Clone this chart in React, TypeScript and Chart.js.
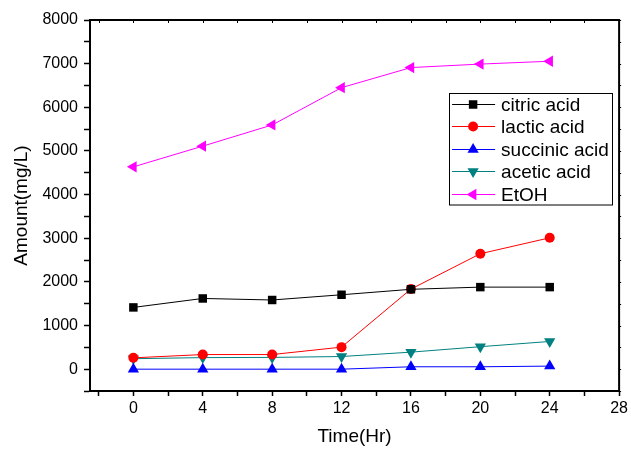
import React, { useEffect, useRef } from 'react';
import { Chart, registerables } from 'chart.js';
import { drawPoint } from 'chart.js/helpers';

Chart.register(...registerables);

const hours = [0, 4, 8, 12, 16, 20, 24];
const citricAcid = [1415, 1620, 1585, 1705, 1830, 1880, 1880];
const lacticAcid = [260, 335, 335, 505, 1835, 2645, 3010];
const succinicAcid = [0, 0, 0, 0, 55, 55, 70];
const aceticAcid = [240, 265, 270, 290, 390, 515, 635];
const etoh = [4635, 5110, 5595, 6450, 6910, 6990, 7055];

const seriesNames = ['citric acid', 'lactic acid', 'succinic acid', 'acetic acid', 'EtOH'];
const xTickValues = [-2, 0, 2, 4, 6, 8, 10, 12, 14, 16, 18, 20, 22, 24, 26, 28];
const xLabelValues = [0, 4, 8, 12, 16, 20, 24, 28];
const yTickValues = [-500, 0, 500, 1000, 1500, 2000, 2500, 3000, 3500, 4000, 4500, 5000, 5500, 6000, 6500, 7000, 7500, 8000];
const yLabelValues = [0, 1000, 2000, 3000, 4000, 5000, 6000, 7000, 8000];

const FONT = '"Liberation Sans", Arial, sans-serif';

const styles = [
  { color: '#000000', pointStyle: 'rect', radius: 6, rotation: 0 },
  { color: '#FF0000', pointStyle: 'circle', radius: 5, rotation: 0 },
  { color: '#0000FF', pointStyle: 'triangle', radius: 6.5, rotation: 0 },
  { color: '#008080', pointStyle: 'triangle', radius: 6.5, rotation: 180 },
  { color: '#FF00FF', pointStyle: 'triangle', radius: 6.5, rotation: -90 },
];

const seriesValues = [citricAcid, lacticAcid, succinicAcid, aceticAcid, etoh];

const framePlugin = {
  id: 'frame',
  afterDraw(chart: any) {
    const { ctx, chartArea: a, scales } = chart;
    ctx.save();
    ctx.strokeStyle = '#000';
    ctx.lineWidth = 2;
    ctx.beginPath();
    ctx.moveTo(a.left - 1, a.top);
    ctx.lineTo(a.right, a.top);
    ctx.lineTo(a.right, a.bottom + 1);
    ctx.stroke();
    ctx.lineWidth = 1;
    ctx.beginPath();
    for (const v of xTickValues) {
      const px = Math.round(scales.x.getPixelForValue(v)) + 0.5;
      ctx.moveTo(px, a.top);
      ctx.lineTo(px, a.top + 3);
    }
    for (const v of yTickValues) {
      const py = Math.round(scales.y.getPixelForValue(v)) + 0.5;
      ctx.moveTo(a.right, py);
      ctx.lineTo(a.right + 2, py);
    }
    ctx.stroke();
    ctx.restore();
  },
};

const legendPlugin = {
  id: 'boxLegend',
  afterDraw(chart: any) {
    const { ctx, chartArea: a } = chart;
    const left = a.right - 170;
    const top = a.top + 72.5;
    const width = 163;
    const height = 111.5;
    ctx.save();
    ctx.fillStyle = '#fff';
    ctx.fillRect(left, top, width, height);
    ctx.strokeStyle = '#000';
    ctx.lineWidth = 1;
    ctx.strokeRect(Math.round(left) + 0.5, Math.round(top) + 0.5, width, height);
    ctx.font = `19px ${FONT}`;
    ctx.textBaseline = 'middle';
    ctx.textAlign = 'left';
    seriesNames.forEach((name, i) => {
      const st = styles[i];
      const y = Math.round(top + 11.5 + i * 22.4) + 0.5;
      ctx.strokeStyle = st.color;
      ctx.lineWidth = 1;
      ctx.beginPath();
      ctx.moveTo(left + 3, y);
      ctx.lineTo(left + 46, y);
      ctx.stroke();
      ctx.fillStyle = st.color;
      drawPoint(ctx, { pointStyle: st.pointStyle as any, radius: st.radius, rotation: st.rotation, borderWidth: 0 } as any, left + 24, y);
      ctx.fillStyle = '#000';
      ctx.fillText(name, left + 52, y + 1);
    });
    ctx.restore();
  },
};

export default function App() {
  const ref = useRef<HTMLCanvasElement>(null);
  useEffect(() => {
    const canvas = ref.current!;
    const chart = new Chart(canvas, {
      type: 'line',
      data: {
        datasets: seriesNames.map((name, i) => ({
          label: name,
          data: hours.map((h, j) => ({ x: h, y: seriesValues[i][j] })),
          borderColor: styles[i].color,
          backgroundColor: styles[i].color,
          borderWidth: 1,
          pointStyle: styles[i].pointStyle as any,
          pointRadius: styles[i].radius,
          pointRotation: styles[i].rotation,
          pointBorderWidth: 0,
          tension: 0,
          fill: false,
        })),
      },
      options: {
        responsive: false,
        devicePixelRatio: 1,
        animation: false,
        layout: { padding: { left: 0, right: 9, top: 20, bottom: 0 } },
        plugins: { legend: { display: false }, tooltip: { enabled: false } },
        scales: {
          x: {
            type: 'linear',
            min: -2.5,
            max: 28,
            afterBuildTicks: (s: any) => {
              s.ticks = xTickValues.map((v) => ({ value: v }));
            },
            afterFit: (s: any) => {
              s.height = 59;
            },
            ticks: {
              autoSkip: false,
              maxRotation: 0,
              color: '#000',
              padding: 3,
              font: { size: 16, family: FONT },
              callback: (v: any) => (xLabelValues.includes(Number(v)) ? String(v) : ''),
            },
            grid: { drawOnChartArea: false, drawTicks: true, tickLength: 5, tickColor: '#000', tickWidth: 1.5 },
            border: { display: true, color: '#000', width: 2 },
            title: {
              display: true,
              text: 'Time(Hr)',
              color: '#000',
              font: { size: 19, family: FONT },
              padding: { top: 0, bottom: 2 },
            },
          },
          y: {
            type: 'linear',
            min: -500,
            max: 8000,
            afterBuildTicks: (s: any) => {
              s.ticks = yTickValues.map((v) => ({ value: v }));
            },
            afterFit: (s: any) => {
              s.width = 90;
            },
            ticks: {
              autoSkip: false,
              color: '#000',
              padding: 6,
              font: { size: 16, family: FONT },
              callback: (v: any) => (yLabelValues.includes(Number(v)) ? String(v) : ''),
            },
            grid: { drawOnChartArea: false, drawTicks: true, tickLength: 6, tickColor: '#000', tickWidth: 1.5 },
            border: { display: true, color: '#000', width: 2 },
            title: {
              display: true,
              text: 'Amount(mg/L)',
              color: '#000',
              font: { size: 19, family: FONT },
              padding: { top: 10, bottom: 0 },
            },
          },
        },
      },
      plugins: [framePlugin, legendPlugin],
    });
    return () => chart.destroy();
  }, []);
  return (
    <div style={{ position: 'absolute', left: 0, top: 0, width: 631, height: 450, background: '#fff' }}>
      <canvas ref={ref} width={631} height={450} style={{ display: 'block' }} />
    </div>
  );
}
